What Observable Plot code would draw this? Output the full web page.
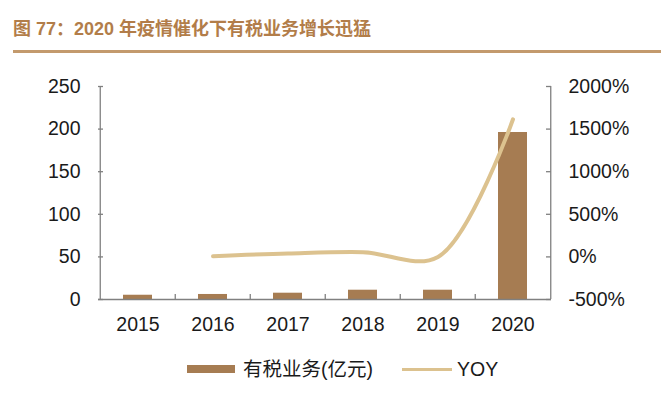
<!DOCTYPE html>
<html>
<head>
<meta charset="utf-8">
<script src="https://cdn.jsdelivr.net/npm/d3@7"></script>
<script src="https://cdn.jsdelivr.net/npm/@observablehq/plot@0.6"></script>
<style>
  body { margin: 0; background: #fff; width: 661px; height: 393px; position: relative; overflow: hidden; }
  #title { position: absolute; left: 13px; top: 16px; font: bold 18px "Liberation Sans", "Noto Sans CJK SC", sans-serif; color: #b27d49; line-height: 26px; white-space: nowrap; }
  #rule { position: absolute; left: 13px; right: 0; top: 50px; height: 3px; background: #c39a6d; }
  #chart { position: absolute; left: 0; top: 56px; }
  .lg { position: absolute; font: 19.5px "Liberation Sans", "Noto Sans CJK SC", sans-serif; color: #1a1a1a; line-height: 24px; white-space: nowrap; }
</style>
</head>
<body>
<div id="title">图 77：2020 年疫情催化下有税业务增长迅猛</div>
<div id="rule"></div>
<div id="chart"></div>
<div class="lg" style="left:187px; top:365px; width:48px; height:8px; background:#a67c52;"></div>
<div class="lg" style="left:243px; top:357px;">有税业务(亿元)</div>
<div class="lg" style="left:402px; top:368px; width:50px; height:3px; background:#dcc28f;"></div>
<div class="lg" style="left:457px; top:357px;">YOY</div>
<script>
const years = ["2015", "2016", "2017", "2018", "2019", "2020"];
const revenue = [5, 5.9, 7.4, 10.9, 10.9, 196];
const yoyYears = ["2016", "2017", "2018", "2019", "2020"];
const yoy = [8, 40, 55, 0, 1615];
const leftTicks = [0, 50, 100, 150, 200, 250];
const rightTicks = [-500, 0, 500, 1000, 1500, 2000];

const barData = years.map((y, i) => ({year: y, value: revenue[i]}));
const lineData = yoyYears.map((y, i) => ({year: y, yoy: yoy[i]}));
// map right axis (-500%..2000%) onto left scale (0..250)
const toLeft = v => (v + 500) / 2500 * 250;

const W = 661, H = 290, mL = 98, mR = 110, mT = 30, mB = 47;
const pw = W - mL - mR, ph = H - mT - mB;
const step = pw / years.length;
const axisColor = "#808080";

const chart = Plot.plot({
  width: W, height: H,
  marginLeft: mL, marginRight: mR, marginTop: mT, marginBottom: mB,
  style: {fontFamily: "'Liberation Sans', Arial, sans-serif", fontSize: "19.5px", color: "#1a1a1a", background: "white"},
  x: {domain: years, paddingInner: 0.615, paddingOuter: 0.3075, label: null},
  y: {domain: [0, 250], label: null},
  marks: [
    Plot.barY(barData, {x: "year", y: "value", fill: "#a67c52"}),
    Plot.line(lineData, {x: "year", y: d => toLeft(d.yoy), curve: "catmull-rom", stroke: "#dcc28f", strokeWidth: 4, strokeLinecap: "round"}),
    Plot.ruleY([0], {stroke: axisColor, strokeWidth: 1.3}),
    Plot.ruleX([years[0]], {dx: -step / 2, stroke: axisColor, strokeWidth: 1.3}),
    Plot.ruleX([years[years.length - 1]], {dx: step / 2, stroke: axisColor, strokeWidth: 1.3}),
    Plot.ruleX(years.slice(1), {x: d => d, dx: -step / 2, insetTop: ph - 5, stroke: axisColor, strokeWidth: 1.3}),
    Plot.ruleY(leftTicks, {y: d => d, insetRight: pw - 5, stroke: axisColor, strokeWidth: 1.3}),
    Plot.ruleY(rightTicks, {y: d => toLeft(d), insetLeft: pw - 5, stroke: axisColor, strokeWidth: 1.3}),
    Plot.axisX({tickSize: 0, tickPadding: 18}),
    Plot.axisY(leftTicks, {anchor: "left", tickSize: 0, tickPadding: 18}),
    Plot.axisY(rightTicks.map(toLeft), {anchor: "right", tickSize: 0, tickPadding: 17, tickFormat: d => Math.round(d / 250 * 2500 - 500) + "%"})
  ]
});
document.getElementById("chart").appendChild(chart);
</script>
</body>
</html>
